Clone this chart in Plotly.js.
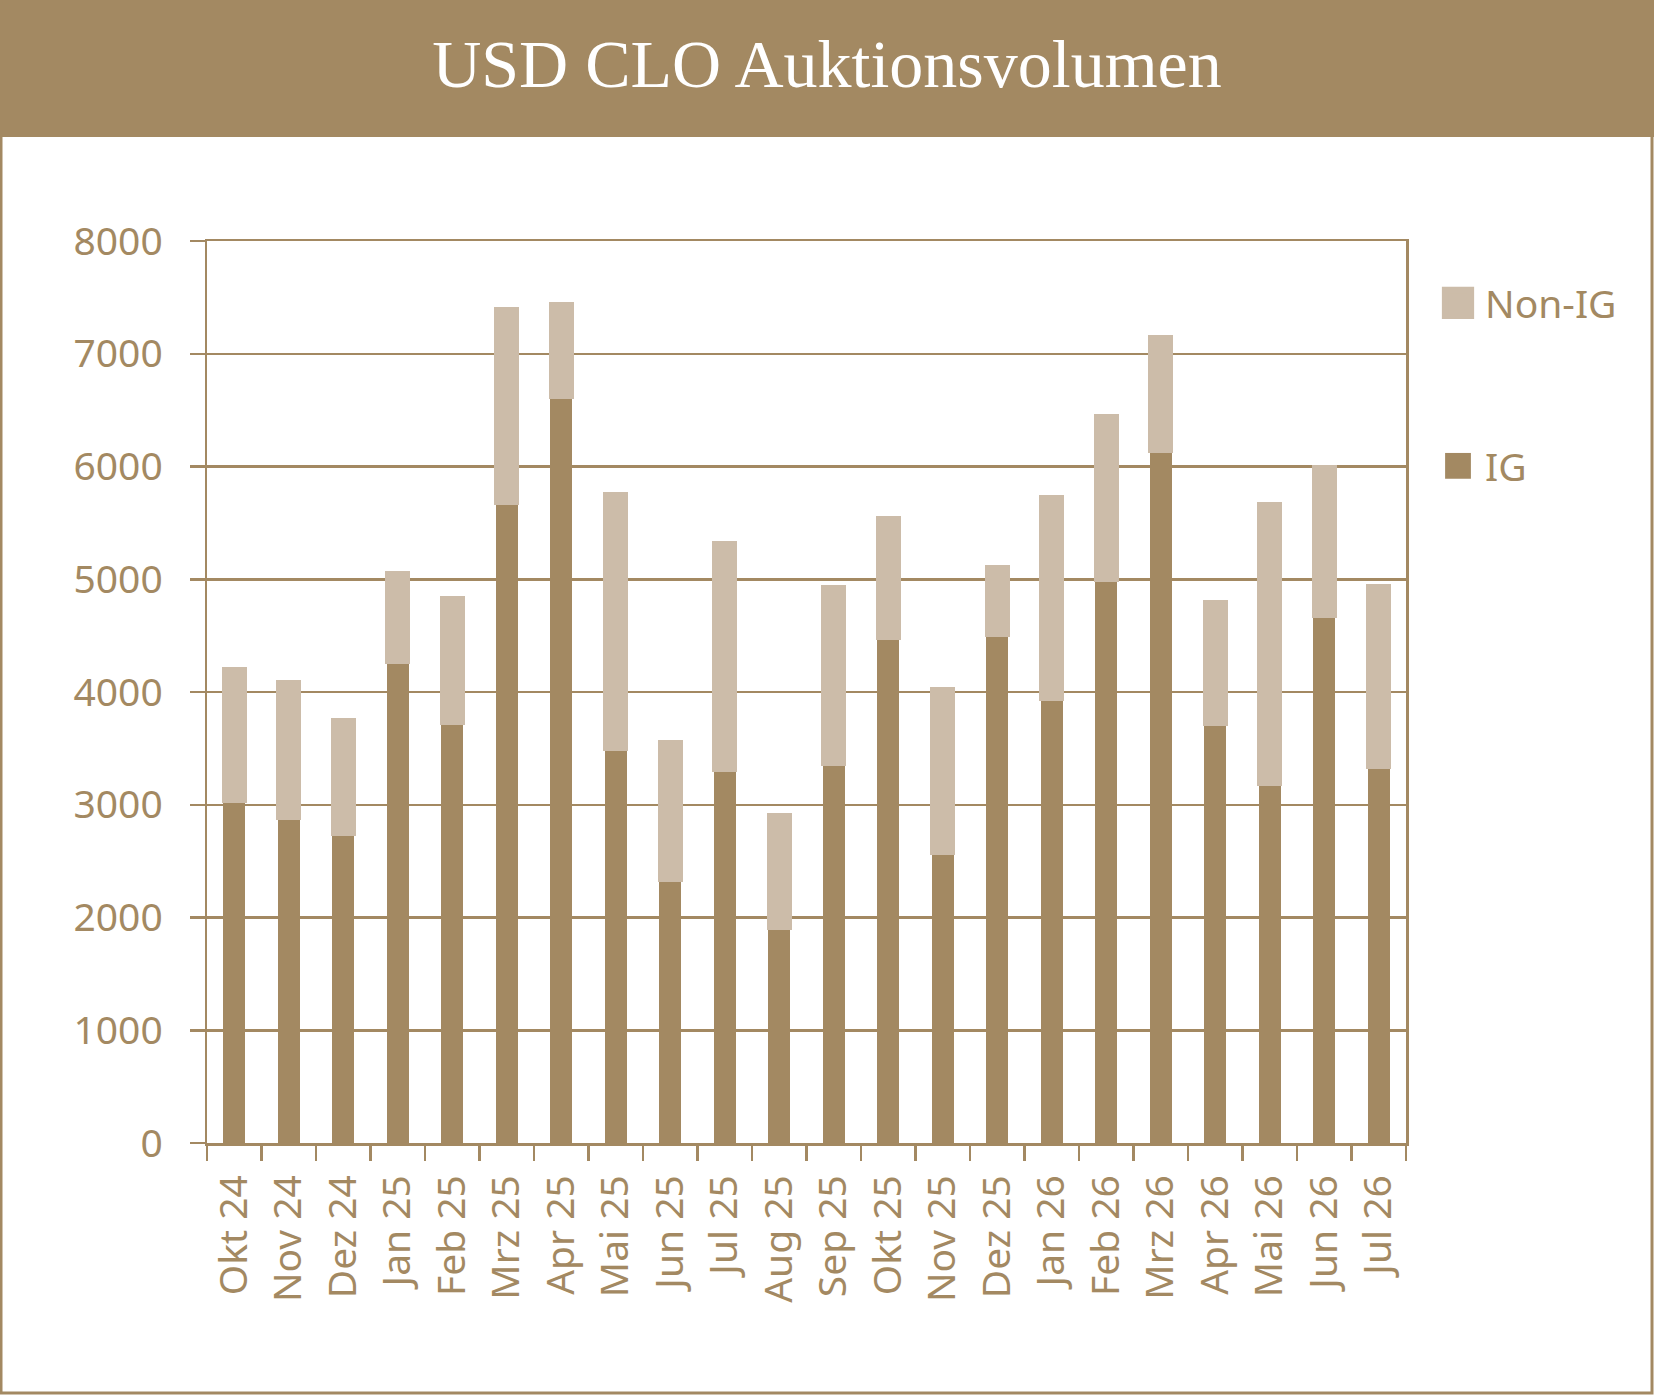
<!DOCTYPE html>
<html>
<head>
<meta charset="utf-8">
<script src="https://cdn.plot.ly/plotly-3.0.1.min.js"></script>
<style>
  html, body { margin: 0; padding: 0; background: #fff; }
  #chart { width: 1654px; height: 1395px; }
  /* bigger legend squares, like the original */
  #chart .legendpoints path { transform: translate(23px, 0) scale(2.15); }
</style>
</head>
<body>
<div id="chart"></div>
<script>
const months = [
  'Okt 24', 'Nov 24', 'Dez 24', 'Jan 25', 'Feb 25', 'Mrz 25', 'Apr 25', 'Mai 25',
  'Jun 25', 'Jul 25', 'Aug 25', 'Sep 25', 'Okt 25', 'Nov 25', 'Dez 25', 'Jan 26',
  'Feb 26', 'Mrz 26', 'Apr 26', 'Mai 26', 'Jun 26', 'Jul 26',
];
const igValues = [
  3030, 2875, 2735, 4260, 3720, 5675, 6615, 3490, 2330, 3305, 1905,
  3360, 4475, 2570, 4505, 3935, 4990, 6130, 3710, 3180, 4670, 3330,
];
const nonIgValues = [
  1175, 1220, 1025, 800, 1120, 1725, 830, 2275, 1235, 2025, 1005,
  1580, 1075, 1465, 610, 1795, 1465, 1025, 1095, 2490, 1330, 1615,
];
const yTicks = [0, 1000, 2000, 3000, 4000, 5000, 6000, 7000, 8000];

const brown = '#a38962';
const sand = '#ccbca9';
const W = 1654;
const H = 1395;
const margin = { l: 207, r: 248, t: 241, b: 252, pad: 0 };
const pw = W - margin.l - margin.r;
const ph = H - margin.t - margin.b;
const legendX = (1435 - margin.l) / pw;

const traces = [
  {
    type: 'bar',
    name: 'IG',
    x: months,
    y: igValues,
    marker: { color: brown, line: { width: 0 } },
    legend: 'legend2',
    showlegend: true,
    hoverinfo: 'none',
  },
  {
    type: 'bar',
    name: 'Non-IG',
    x: months,
    y: nonIgValues,
    marker: { color: sand, line: { color: sand, width: 3 } },
    legend: 'legend',
    showlegend: true,
    hoverinfo: 'none',
  },
];

const layout = {
  width: W,
  height: H,
  margin: margin,
  showlegend: true,
  paper_bgcolor: '#ffffff',
  plot_bgcolor: '#ffffff',
  barmode: 'stack',
  bargap: 0.6,
  font: { family: '"Noto Sans", sans-serif', size: 39, color: brown },
  title: {
    text: 'USD CLO Auktionsvolumen',
    font: { family: '"Liberation Serif", serif', size: 68, color: '#ffffff' },
    x: 0.5,
    xref: 'container',
    xanchor: 'center',
    y: 1 - 63 / H,
    yref: 'container',
    yanchor: 'middle',
  },
  xaxis: {
    type: 'category',
    tickangle: -90,
    ticks: 'outside',
    tickson: 'boundaries',
    ticklen: 15,
    tickwidth: 2.5,
    tickcolor: brown,
    ticklabelstandoff: 14,
    showgrid: false,
    showline: true,
    linecolor: brown,
    linewidth: 2.5,
    mirror: true,
    zeroline: false,
  },
  yaxis: {
    range: [0, 8000],
    tickvals: yTicks,
    ticktext: yTicks.map(String),
    ticks: 'outside',
    ticklen: 15,
    tickwidth: 2.5,
    tickcolor: brown,
    ticklabelstandoff: 19,
    showgrid: true,
    gridcolor: brown,
    gridwidth: 2.5,
    showline: true,
    linecolor: brown,
    linewidth: 2.5,
    mirror: true,
    zeroline: false,
  },
  legend: {
    visible: true,
    x: legendX,
    y: (margin.t + ph - 303) / ph,
    xanchor: 'left',
    yanchor: 'middle',
    bgcolor: 'rgba(0,0,0,0)',
    itemwidth: 40,
    font: { size: 39, color: brown },
  },
  legend2: {
    visible: true,
    x: legendX,
    y: (margin.t + ph - 466) / ph,
    xanchor: 'left',
    yanchor: 'middle',
    bgcolor: 'rgba(0,0,0,0)',
    itemwidth: 40,
    font: { size: 39, color: brown },
  },
  shapes: [
    // title banner
    {
      type: 'rect',
      xref: 'paper',
      yref: 'paper',
      x0: -margin.l / pw,
      x1: 1 + margin.r / pw,
      y0: 1 + (margin.t - 137) / ph,
      y1: 1 + margin.t / ph,
      fillcolor: brown,
      line: { width: 0 },
      layer: 'below',
    },
    // outer frame
    {
      type: 'rect',
      xref: 'paper',
      yref: 'paper',
      x0: (1 - margin.l) / pw,
      x1: 1 + (margin.r - 2) / pw,
      y0: -(margin.b - 2) / ph,
      y1: 1 + (margin.t - 1) / ph,
      line: { color: brown, width: 3 },
      layer: 'below',
    },
  ],
};

Plotly.newPlot('chart', traces, layout, { displayModeBar: false, staticPlot: true });
</script>
</body>
</html>
